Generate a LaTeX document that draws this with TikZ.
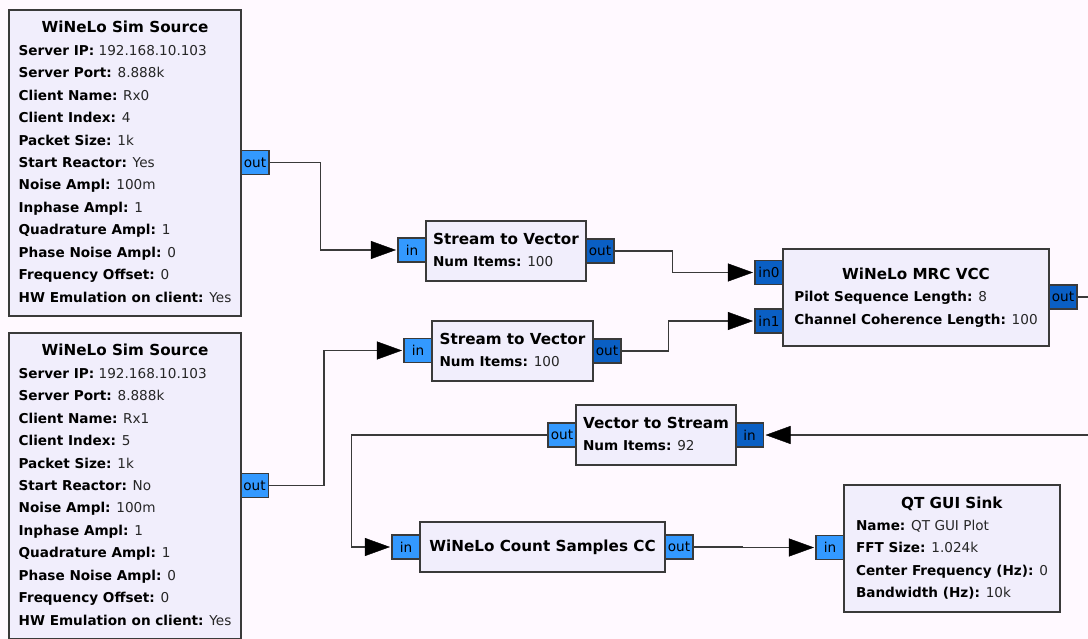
\documentclass[tikz,border=0pt]{standalone}
\usepackage{fontspec}
\setmainfont{DejaVu Sans}
\usepackage{tikz}
\usetikzlibrary{arrows.meta, positioning}
\definecolor{CanvasBg}{HTML}{FFF9FF}
\definecolor{BlockBg}{HTML}{F1EEFC}
\definecolor{StreamPort}{HTML}{3399FF}
\definecolor{VectorPort}{HTML}{0A5FC4}
\definecolor{EdgeGray}{HTML}{3A3A3A}
\newcommand{\prm}[2]{\textbf{#1:} {\color{black!85}#2}}
\newcommand{\blocktitle}[1]{\multicolumn{1}{@{}c@{}}{\fontsize{15.2}{22.45}\selectfont\textbf{#1}}}
\tikzset{
  grcfont/.style={font=\fontsize{13.6}{22.45}\selectfont},
  block/.style={draw=EdgeGray, fill=BlockBg, line width=1.3pt, inner sep=0pt, grcfont},
  port/.style={draw=EdgeGray, fill=StreamPort, line width=1.1pt, minimum width=28pt,
               minimum height=24pt, inner sep=0pt, grcfont},
  vport/.style={port, fill=VectorPort},
  link/.style={draw=EdgeGray, line width=1.2pt},
  arr/.style={link, -{Triangle[length=25pt, width=18pt, color=black, fill=black, line width=0.4pt]}, shorten >=1.5pt}
}

\begin{document}
\begin{tikzpicture}[x=1pt, y=-1pt]
    \useasboundingbox[fill=CanvasBg] (0,0) rectangle (1088,639);

    \node[port] (src1out) at (255,162.5) {out};
    \node[port] (src2out) at (254.5,485.5) {out};
    \node[port] (stv1in) at (412,250) {in};
    \node[vport] (stv1out) at (600,251) {out};
    \node[port] (stv2in) at (418,350.5) {in};
    \node[vport] (stv2out) at (607,351) {out};
    \node[vport] (mrcin0) at (769,272.5) {in0};
    \node[vport] (mrcin1) at (769,321) {in1};
    \node[vport] (mrcout) at (1063,297) {out};
    \node[port] (vtsout) at (562,435) {out};
    \node[vport] (vtsin) at (749.5,435) {in};
    \node[port] (cntin) at (406,547) {in};
    \node[port] (cntout) at (679,547) {out};
    \node[port] (sinkin) at (830,547.5) {in};

    \node[block, minimum width=232pt, minimum height=306pt] (src1) at (125,163) {%
        \begin{tabular}{@{}l@{}}
        \blocktitle{WiNeLo Sim Source}\\
        \prm{Server IP}{192.168.10.103}\\
        \prm{Server Port}{8.888k}\\
        \prm{Client Name}{Rx0}\\
        \prm{Client Index}{4}\\
        \prm{Packet Size}{1k}\\
        \prm{Start Reactor}{Yes}\\
        \prm{Noise Ampl}{100m}\\
        \prm{Inphase Ampl}{1}\\
        \prm{Quadrature Ampl}{1}\\
        \prm{Phase Noise Ampl}{0}\\
        \prm{Frequency Offset}{0}\\
        \prm{HW Emulation on client}{Yes}
        \end{tabular}};
    \node[block, minimum width=232pt, minimum height=306pt] (src2) at (125,486) {%
        \begin{tabular}{@{}l@{}}
        \blocktitle{WiNeLo Sim Source}\\
        \prm{Server IP}{192.168.10.103}\\
        \prm{Server Port}{8.888k}\\
        \prm{Client Name}{Rx1}\\
        \prm{Client Index}{5}\\
        \prm{Packet Size}{1k}\\
        \prm{Start Reactor}{No}\\
        \prm{Noise Ampl}{100m}\\
        \prm{Inphase Ampl}{1}\\
        \prm{Quadrature Ampl}{1}\\
        \prm{Phase Noise Ampl}{0}\\
        \prm{Frequency Offset}{0}\\
        \prm{HW Emulation on client}{Yes}
        \end{tabular}};
    \node[block, minimum width=160pt, minimum height=60pt] (stv1) at (506,251) {%
        \begin{tabular}{@{}l@{}}
        \blocktitle{Stream to Vector}\\
        \prm{Num Items}{100}
        \end{tabular}};
    \node[block, minimum width=161pt, minimum height=60pt] (stv2) at (512.5,351) {%
        \begin{tabular}{@{}l@{}}
        \blocktitle{Stream to Vector}\\
        \prm{Num Items}{100}
        \end{tabular}};
    \node[block, minimum width=266pt, minimum height=97pt] (mrc) at (916,297.5) {%
        \begin{tabular}{@{}l@{}}
        \blocktitle{WiNeLo MRC VCC}\\
        \prm{Pilot Sequence Length}{8}\\
        \prm{Channel Coherence Length}{100}
        \end{tabular}};
    \node[block, minimum width=160pt, minimum height=60pt] (vts) at (656,435) {%
        \begin{tabular}{@{}l@{}}
        \blocktitle{Vector to Stream}\\
        \prm{Num Items}{92}
        \end{tabular}};
    \node[block, minimum width=245pt, minimum height=50pt] (cnt) at (542.5,547)
        {\fontsize{15.2}{22.45}\selectfont\textbf{WiNeLo Count Samples CC}};
    \node[block, minimum width=216pt, minimum height=127pt] (sink) at (952,548.5) {%
        \begin{tabular}{@{}l@{}}
        \blocktitle{QT GUI Sink}\\
        \prm{Name}{QT GUI Plot}\\
        \prm{FFT Size}{1.024k}\\
        \prm{Center Frequency (Hz)}{0}\\
        \prm{Bandwidth (Hz)}{10k}
        \end{tabular}};

    \coordinate (mrcexit) at (1090,297);
    \coordinate (vtsentry) at (1090,435);

    \draw[arr] (src1out.east) -- ++(51,0) |- (stv1in);
    \draw[arr] (src2out.east) -- ++(55,0) |- (stv2in);
    \draw[arr] (stv1out.east) -- ++(58,0) |- (mrcin0);
    \draw[arr] (stv2out.east) -- ++(47,0) |- (mrcin1);
    \draw[link] (mrcout.east) -- (mrcexit);
    \draw[arr] (vtsentry) -- (vtsin);
    \draw[arr] (vtsout.west) -- ++(-196,0) |- (cntin);
    \draw[arr] (cntout.east) -- ++(49,0) |- (sinkin);
\end{tikzpicture}
\end{document}
